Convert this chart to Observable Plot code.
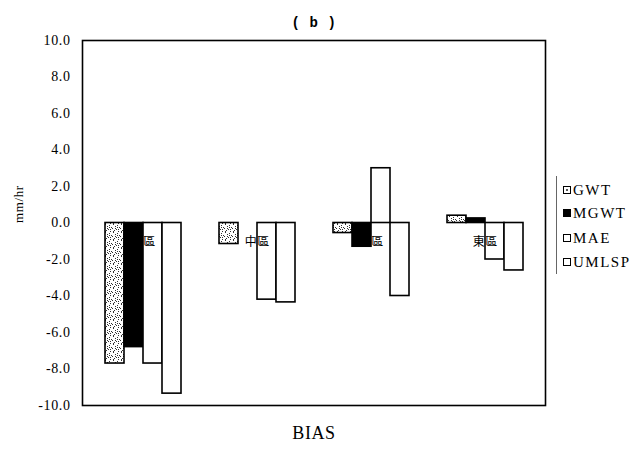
<!DOCTYPE html>
<html><head><meta charset="utf-8">
<script src="https://cdn.jsdelivr.net/npm/d3@7"></script>
<script src="https://cdn.jsdelivr.net/npm/@observablehq/plot@0.6"></script>
<style>
body{margin:0;background:#fff}
#wrap{position:relative;width:636px;height:450px;font-family:"Liberation Serif","Times New Roman","DejaVu Serif",serif;color:#000}
#wrap svg{position:absolute;left:0;top:0}
#wrap svg text{font-family:"Liberation Serif","Times New Roman","DejaVu Serif",serif}
#wrap svg text.cjk{font-family:"Noto Sans CJK TC",sans-serif}
#wrap svg text.mono{font-family:"Liberation Mono","DejaVu Sans Mono",monospace}
.leg{position:absolute;left:563px;height:16px;font-size:15px;letter-spacing:1.5px;display:flex;align-items:center;white-space:nowrap}
.sw{width:6px;height:6px;border:1.5px solid #000;margin-right:2px;background:#fff}
.vline{position:absolute;left:556px;top:176px;width:1px;height:98px;background:#666}
</style></head><body><div id="wrap"></div>
<script>
// ---- data ----
const groups = ["北區", "中區", "南區", "東區"];
const series = ["GWT", "MGWT", "MAE", "UMLSP"];
const gwt   = [-7.7, -1.15, -0.55, 0.4];
const mgwt  = [-6.8, 0, -1.3, 0.25];
const mae   = [-7.7, -4.2, 3.0, -2.0];
const umlsp = [-9.35, -4.35, -4.0, -2.6];
const yTicks = [10, 8, 6, 4, 2, 0, -2, -4, -6, -8, -10];
const titleText = "( b )";
const xTitle = "BIAS";
const yTitle = "mm/hr";
const seriesFills = ["url(#stip)", "#000", "#fff", "#fff"];
const legendRowsY = [190, 213, 238, 262];

// ---- build table ----
const values = [gwt, mgwt, mae, umlsp];
const rows = [];
groups.forEach((g, gi) => series.forEach((s, si) => rows.push({group: g, series: s, key: g + "|" + s, value: values[si][gi]})));
const xDomain = groups.flatMap(g => [g + "|L", ...series.map(s => g + "|" + s), g + "|R"]);

const W = 636, H = 450, ml = 82, mr = 91, mt = 40, mb = 45;
const bw = (W - ml - mr) / xDomain.length;

const chart = Plot.plot({
  width: W, height: H,
  marginLeft: ml, marginRight: mr, marginTop: mt, marginBottom: mb,
  style: {background: "white", color: "black", overflow: "visible"},
  x: {type: "band", domain: xDomain, padding: 0, axis: null},
  y: {domain: [-10, 10], axis: null},
  color: {type: "ordinal", domain: series, range: seriesFills},
  marks: [
    Plot.barY(rows, {x: "key", y: "value", fill: "series", stroke: "#000", strokeWidth: 1.6, inset: 0}),
    Plot.text(groups, {x: g => g + "|MAE", y: () => 0, text: d => d, dx: -bw / 2, dy: 19, fontSize: 12, fill: "#000", className: "cjk"}),
    Plot.axisY({ticks: yTicks, tickFormat: d => d.toFixed(1), tickSize: 0, tickPadding: 12, fontSize: 14, label: null}),
    Plot.frame({stroke: "#000", strokeWidth: 1.6}),
    Plot.text([titleText], {frameAnchor: "top", dy: -23, fontSize: 14, fontWeight: "bold", className: "mono"}),
    Plot.text([xTitle], {frameAnchor: "bottom", dy: 33, fontSize: 18}),
    Plot.text([yTitle], {frameAnchor: "left", dx: -64, rotate: -90, fontSize: 13})
  ]
});

// stipple pattern for GWT
const svg = d3.select(chart);
const defs = svg.insert("defs", ":first-child");
const pat = defs.append("pattern").attr("id", "stip").attr("width", 8).attr("height", 8).attr("patternUnits", "userSpaceOnUse");
pat.append("rect").attr("width", 8).attr("height", 8).attr("fill", "#fff");
[[1,0],[5,1],[3,2],[7,3],[0,4],[4,5],[2,6],[6,7],[6,5],[1,7],[3,4],[5,3]].forEach(([x, y]) =>
  pat.append("rect").attr("x", x).attr("y", y).attr("width", 1).attr("height", 1).attr("fill", "#333"));
// CJK labels: make sure they use a CJK font even if className is unsupported
svg.selectAll("text").filter(function() { return /[\u4e00-\u9fff]/.test(this.textContent); }).classed("cjk", true);
svg.selectAll("text").filter(function() { return this.textContent === titleText; }).classed("mono", true);
svg.selectAll("text").style("letter-spacing", "0.6px");

const wrap = document.getElementById("wrap");
wrap.appendChild(chart);

// legend
const vl = document.createElement("div"); vl.className = "vline"; wrap.appendChild(vl);
series.forEach((s, i) => {
  const row = document.createElement("div");
  row.className = "leg";
  row.style.top = (legendRowsY[i] - 8) + "px";
  const sw = document.createElement("span");
  sw.className = "sw";
  if (i === 0) sw.style.background = "radial-gradient(circle, #555 0 1px, #fff 1.2px)";
  if (i === 1) sw.style.background = "#000";
  row.appendChild(sw);
  row.appendChild(document.createTextNode(s));
  wrap.appendChild(row);
});
</script></body></html>
